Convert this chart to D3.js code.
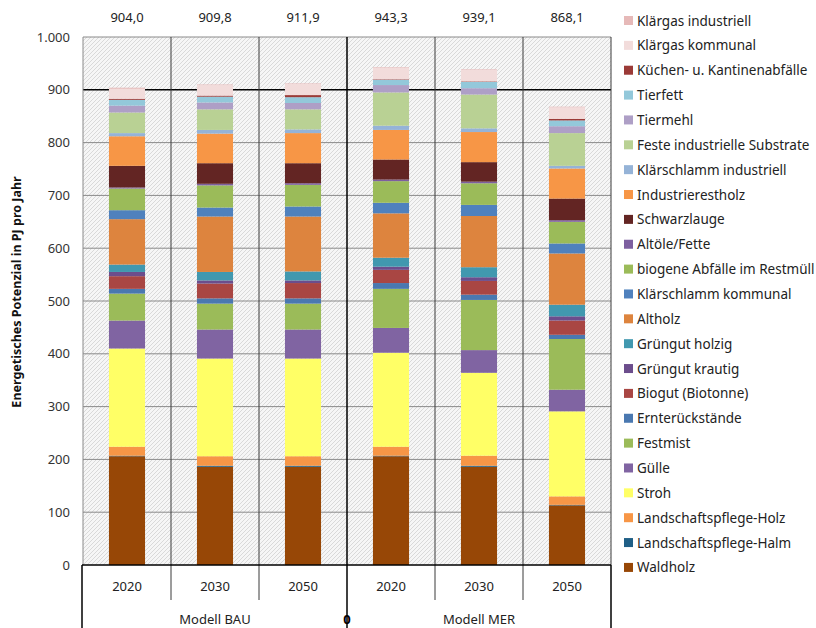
<!DOCTYPE html>
<html>
<head>
<meta charset="utf-8">
<script src="https://cdn.jsdelivr.net/npm/d3@7"></script>
<style>
  body { margin: 0; background: #fff; }
  text { font-family: "Noto Sans", "Open Sans", sans-serif; }
</style>
</head>
<body>
<svg id="chart" width="816" height="628"></svg>
<script>
// Kategorien
const years = ["2020", "2030", "2050", "2020", "2030", "2050"]
const groups = ["Modell BAU", "Modell MER"]
const totals = [904.0, 909.8, 911.9, 943.3, 939.1, 868.1]
const yTicks = [0, 100, 200, 300, 400, 500, 600, 700, 800, 900, 1000]

// Werte je Quelle (PJ/a), unten -> oben
const waldholz          = [206, 186, 186, 206, 186, 113]
const lpHalm            = [1, 2, 2, 1, 2, 1]
const lpHolz            = [17, 18, 18, 17, 19, 16]
const stroh             = [186, 185, 185, 178, 157, 161]
const guelle            = [53, 55, 55, 47, 43, 41]
const festmist          = [51, 49, 49, 74, 95, 96]
const ernterueckst      = [9, 10, 10, 11, 10, 8]
const biogut            = [24, 28, 29, 25, 26, 27]
const gruengutKrautig   = [8, 6, 5, 6, 7, 8]
const gruengutHolzig    = [14, 16, 17, 17, 19, 22]
const altholz           = [86, 105, 104, 84, 97, 97]
const klaerschlammKomm  = [17, 17, 19, 20, 21, 19]
const biogeneAbfaelle   = [41, 42, 41, 41, 41, 41]
const altoele           = [2, 3, 3, 3, 3, 3]
const schwarzlauge      = [41, 39, 38, 38, 37, 41]
const industrierestholz = [56, 56, 57, 56, 57, 57]
const klaerschlammInd   = [6, 7, 7, 8, 7, 5]
const festeSubstrate    = [39, 39, 38, 63, 64, 62]
const tiermehl          = [13, 13, 12, 14, 12, 13]
const tierfett          = [11, 11, 11, 10, 12, 11]
const kuechen           = [2, 2, 4, 1, 1, 3]
const klaergasKomm      = [19, 20, 21, 22, 22, 22]
const klaergasInd       = [2, 1, 1, 1, 1, 1]

const series = [
    {name: "Waldholz", values: waldholz, color: "#974706"},
    {name: "Landschaftspflege-Halm", values: lpHalm, color: "#1f5f86"},
    {name: "Landschaftspflege-Holz", values: lpHolz, color: "#f79646"},
    {name: "Stroh", values: stroh, color: "#ffff66"},
    {name: "Gülle", values: guelle, color: "#8064a2"},
    {name: "Festmist", values: festmist, color: "#9bbb59"},
    {name: "Ernterückstände", values: ernterueckst, color: "#4a78b0"},
    {name: "Biogut (Biotonne)", values: biogut, color: "#a94643"},
    {name: "Grüngut krautig", values: gruengutKrautig, color: "#6c4d8c"},
    {name: "Grüngut holzig", values: gruengutHolzig, color: "#4198af"},
    {name: "Altholz", values: altholz, color: "#dd843e"},
    {name: "Klärschlamm kommunal", values: klaerschlammKomm, color: "#4f81bd"},
    {name: "biogene Abfälle im Restmüll", values: biogeneAbfaelle, color: "#9bbb59"},
    {name: "Altöle/Fette", values: altoele, color: "#7d5fa0"},
    {name: "Schwarzlauge", values: schwarzlauge, color: "#632523"},
    {name: "Industrierestholz", values: industrierestholz, color: "#f79646"},
    {name: "Klärschlamm industriell", values: klaerschlammInd, color: "#95b3d7"},
    {name: "Feste industrielle Substrate", values: festeSubstrate, color: "#b9d194"},
    {name: "Tiermehl", values: tiermehl, color: "#ae9fc6"},
    {name: "Tierfett", values: tierfett, color: "#93c8da"},
    {name: "Küchen- u. Kantinenabfälle", values: kuechen, color: "#9b3a37"},
    {name: "Klärgas kommunal", values: klaergasKomm, color: "#f2dcdb"},
    {name: "Klärgas industriell", values: klaergasInd, color: "#e6b9b8"}
]

const de = d3.formatLocale({decimal: ",", thousands: ".", grouping: [3], currency: ["", "€"]})

const svg = d3.select("#chart")
const plotLeft = 83, plotRight = 611, plotTop = 37, plotBottom = 565

const x = d3.scaleBand()
    .domain(d3.range(years.length))
    .range([plotLeft, plotRight])
    .paddingInner(0.59)
    .paddingOuter(0.295)
const step = x.step()
const y = d3.scaleLinear().domain([0, 1000]).range([plotBottom, plotTop])

// Schraffur Hintergrund
const defs = svg.append("defs")
const pat = defs.append("pattern")
    .attr("id", "hatch")
    .attr("patternUnits", "userSpaceOnUse")
    .attr("width", 4).attr("height", 4)
pat.append("rect").attr("width", 4).attr("height", 4).attr("fill", "#f6f6f6")
pat.append("path")
    .attr("d", "M-1,1 L1,-1 M0,4 L4,0 M3,5 L5,3")
    .attr("stroke", "#d9d9d9")
    .attr("stroke-width", 1)

svg.append("rect")
    .attr("x", plotLeft).attr("y", plotTop)
    .attr("width", plotRight - plotLeft).attr("height", plotBottom - plotTop)
    .attr("fill", "url(#hatch)")

// horizontale Gitterlinien
svg.append("g").selectAll("line")
    .data(yTicks.filter(d => d > 0))
    .join("line")
    .attr("x1", plotLeft).attr("x2", plotRight)
    .attr("y1", d => y(d)).attr("y2", d => y(d))
    .attr("stroke", d => d === 900 ? "#000" : "#8a8a8a")
    .attr("stroke-width", d => d === 900 ? 1.5 : 1)

// vertikale Trennlinien
const dividers = d3.range(1, years.length).map(i => plotLeft + i * step)
svg.append("g").selectAll("line")
    .data(dividers)
    .join("line")
    .attr("x1", d => d).attr("x2", d => d)
    .attr("y1", plotTop).attr("y2", (d, i) => i === 2 ? 628 : 600)
    .attr("stroke", (d, i) => i === 2 ? "#000" : "#3a3a3a")
    .attr("stroke-width", (d, i) => i === 2 ? 1.5 : 1)

// Rahmen
svg.append("line").attr("x1", plotLeft).attr("x2", plotLeft).attr("y1", plotTop).attr("y2", plotBottom)
    .attr("stroke", "#8a8a8a")
svg.append("line").attr("x1", plotRight).attr("x2", plotRight).attr("y1", plotTop).attr("y2", plotBottom)
    .attr("stroke", "#3a3a3a")

// Balken
const table = years.map((yr, i) => {
    const row = {idx: i}
    series.forEach(s => { row[s.name] = s.values[i] })
    return row
})
const stack = d3.stack().keys(series.map(s => s.name))
const layers = stack(table)

svg.append("g").selectAll("g")
    .data(layers)
    .join("g")
    .attr("fill", (d, i) => series[i].color)
    .selectAll("rect")
    .data(d => d)
    .join("rect")
    .attr("x", d => x(d.data.idx))
    .attr("width", x.bandwidth())
    .attr("y", d => y(d[1]))
    .attr("height", d => y(d[0]) - y(d[1]))

// x-Achsenbereich
svg.append("line").attr("x1", plotLeft - 1).attr("x2", plotRight).attr("y1", plotBottom).attr("y2", plotBottom)
    .attr("stroke", "#000").attr("stroke-width", 1.5)
svg.append("line").attr("x1", plotLeft - 1).attr("x2", plotLeft - 1).attr("y1", plotBottom).attr("y2", 628)
    .attr("stroke", "#000").attr("stroke-width", 1.5)
svg.append("line").attr("x1", plotRight).attr("x2", plotRight).attr("y1", plotBottom).attr("y2", 628)
    .attr("stroke", "#000").attr("stroke-width", 1.5)

svg.append("g").selectAll("text")
    .data(years)
    .join("text")
    .attr("x", (d, i) => x(i) + x.bandwidth() / 2)
    .attr("y", 591)
    .attr("text-anchor", "middle")
    .attr("font-size", 13)
    .attr("fill", "#222")
    .text(d => d)

svg.append("g").selectAll("text")
    .data(groups)
    .join("text")
    .attr("x", (d, i) => plotLeft + (i * 3 + 1.5) * step)
    .attr("y", 624)
    .attr("text-anchor", "middle")
    .attr("font-size", 13)
    .attr("fill", "#222")
    .text(d => d)

svg.append("text")
    .attr("x", plotLeft + 3 * step)
    .attr("y", 624)
    .attr("text-anchor", "middle")
    .attr("font-size", 13)
    .attr("font-weight", "bold")
    .text("0")

// y-Achse
svg.append("g").selectAll("text")
    .data(yTicks)
    .join("text")
    .attr("x", 70)
    .attr("y", d => y(d) + 4.5)
    .attr("text-anchor", "end")
    .attr("font-size", 13)
    .attr("fill", "#333")
    .text(d => de.format(",")(d))

svg.append("text")
    .attr("transform", "translate(21,292) rotate(-90)")
    .attr("text-anchor", "middle")
    .attr("font-size", 12.5)
    .attr("font-weight", "bold")
    .attr("fill", "#111")
    .text("Energetisches Potenzial in PJ pro Jahr")

// Summen oben
svg.append("g").selectAll("text")
    .data(totals)
    .join("text")
    .attr("x", (d, i) => x(i) + x.bandwidth() / 2)
    .attr("y", 22)
    .attr("text-anchor", "middle")
    .attr("font-size", 13)
    .attr("fill", "#222")
    .text(d => de.format(",.1f")(d))

// Legende
const legend = svg.append("g").selectAll("g")
    .data(series.slice().reverse())
    .join("g")
    .attr("transform", (d, i) => `translate(624,${21 + i * 24.86})`)
legend.append("rect")
    .attr("x", 0).attr("y", -5)
    .attr("width", 9).attr("height", 9)
    .attr("fill", d => d.color)
legend.append("text")
    .attr("x", 13).attr("y", 4.5)
    .attr("font-size", 13.5)
    .attr("fill", "#222")
    .text(d => d.name)
</script>
</body>
</html>
